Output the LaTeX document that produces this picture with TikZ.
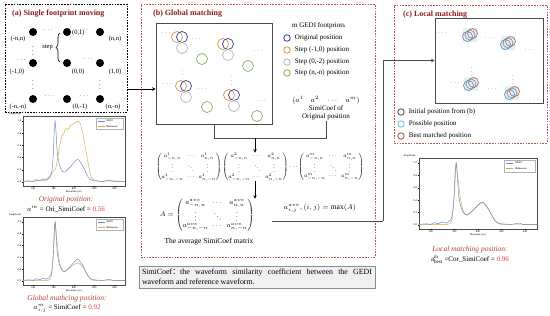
\documentclass[tikz,border=0pt]{standalone}
\usepackage{amsmath,amssymb}
\usepackage{graphicx}
\usepackage{fontspec}
\setmainfont{Liberation Serif}
\newfontfamily\cjk{Noto Sans CJK SC}
\usepackage{xcolor}
\definecolor{clTitle}{HTML}{8E1B1B}
\definecolor{clPanel}{HTML}{C0504D}
\definecolor{clLabel}{HTML}{B5453A}
\definecolor{clValue}{HTML}{E0403A}
\definecolor{clGrid}{HTML}{8C93D2}
\definecolor{clGedi}{HTML}{6B86C6}
\definecolor{clRef}{HTML}{D9A93F}
\definecolor{clOrig}{HTML}{343B8C}
\definecolor{clStepA}{HTML}{D9934A}
\definecolor{clStepB}{HTML}{B4B4B4}
\definecolor{clStepC}{HTML}{82B050}
\definecolor{clInit}{HTML}{454545}
\definecolor{clPoss}{HTML}{62C3E6}
\definecolor{clBest}{HTML}{A84A33}
\definecolor{clGlow}{HTML}{DDF3F9}
\definecolor{clLine}{HTML}{4A4A4A}
\usetikzlibrary{arrows.meta,positioning,calc,backgrounds,decorations.pathreplacing}
\tikzset{
  panel/.style={rectangle, draw=clPanel, dash pattern=on 1.6pt off 1.2pt, line width=0.7pt, inner sep=0pt},
  panelblk/.style={panel, draw=black},
  ptitle/.style={font=\fontsize{8}{9}\selectfont\bfseries, text=clTitle, anchor=west, inner sep=0pt},
  mapbox/.style={rectangle, draw=clLine, line width=0.9pt, fill=white, inner sep=0pt},
  fdot/.style={circle, fill=black, inner sep=0pt, minimum size=8pt},
  gridline/.style={draw=clGrid, line width=1.2pt},
  gridlab/.style={font=\fontsize{6.5}{7}\selectfont, inner sep=0pt},
  tinydots/.style={font=\fontsize{4.5}{5}\selectfont, inner sep=0pt},
  legtxt/.style={font=\fontsize{7}{8}\selectfont, anchor=west, inner sep=0pt},
  legcirc/.style={circle, draw=#1, line width=0.8pt, inner sep=0pt, minimum size=6.5pt},
  fp/.style={draw=#1, line width=0.7pt},
  flow/.style={-{Stealth[length=3.5pt,width=3.5pt]}, line width=0.6pt, draw=black},
  link/.style={line width=0.9pt, draw=clLine},
  poslab/.style={font=\fontsize{7.5}{8}\selectfont\itshape, text=clLabel, inner sep=0pt},
  eqlab/.style={font=\fontsize{7}{8}\selectfont, inner sep=0pt},
  matlab/.style={font=\fontsize{7}{8}\selectfont, inner sep=0pt},
  ticklab/.style={font=\fontsize{2.6}{3}\selectfont\sffamily, inner sep=0.6pt},
  wgedi/.style={draw=clGedi, line width=0.45pt},
  wref/.style={draw=clRef, line width=0.45pt},
  note/.style={rectangle, draw=black!45, fill=black!6, line width=0.6pt, text width=230pt,
               align=justify, inner sep=3pt, font=\fontsize{7.9}{10}\selectfont},
}
% frame, ticks and legend of one waveform plot (local units: metres above 750, amplitude)
\newcommand{\wfaxes}{%
  \draw[clLine, line width=0.35pt] (0,-0.066) rectangle (100,1.08);
  \foreach \v in {0.0,0.2,0.4,0.6,0.8,1.0}{
    \draw[line width=0.3pt] (0,\v) -- (-1,\v);
    \node[ticklab, anchor=east] at (-1,\v) {\v};}
  \foreach \e in {760,780,800,820,840}{
    \draw[line width=0.3pt] ({\e-750},-0.066) -- ({\e-750},-0.085);
    \node[ticklab, anchor=north] at ({\e-750},-0.08) {\e};}
  \node[ticklab, anchor=north] at (50,-0.125) {Elevation (m)};
  \node[ticklab, anchor=south] at (-8,1.09) {Amplitude};
  \draw[line width=0.25pt, draw=black!30] (72,0.86) rectangle (98,1.05);
  \draw[wgedi] (74,1.0) -- (80,1.0);
  \node[ticklab, anchor=west] at (81,1.0) {GEDI};
  \draw[wref] (74,0.91) -- (80,0.91);
  \node[ticklab, anchor=west] at (81,0.91) {Reference};
}
\newcommand{\gediwave}{(0,0.01) (6,0.02) (10,0.01) (13,0.04) (16,0.02) (20,0.05) (23,0.03)
  (26,0.07) (28,0.14) (29.5,0.4) (30.5,0.8) (31.5,1.0) (32.5,0.78) (33.5,0.5) (35,0.33)
  (37,0.22) (39,0.17) (41,0.16) (43,0.19) (46,0.24) (49,0.3) (52,0.36) (54,0.37) (56,0.33)
  (58,0.28) (60,0.22) (62,0.14) (64,0.08) (66,0.04) (70,0.02) (78,0.01) (85,0.03) (88,0.01) (100,0.01)}
\newcommand{\simimat}[1]{\begin{pmatrix} a^{#1}_{-n,n} & \cdots & a^{#1}_{n,n}\\ \vdots & \ddots & \vdots\\ a^{#1}_{-n,-n} & \cdots & a^{#1}_{n,-n}\end{pmatrix}}

\begin{document}
\begin{tikzpicture}[x=1pt, y=-1pt]
  \useasboundingbox (0,0) rectangle (550,316);
  \fill[white] (0,0) rectangle (550,316);

  % (a) single footprint moving
  \node[panelblk, minimum width=122pt, minimum height=108pt] (pa) at (66,58) {};
  \node[ptitle] (ta) at (12,14) {(a) Single footprint moving};
  \node[fdot] (tl) at (33,32) {};  \node[fdot] (tc) at (67,32) {};  \node[fdot] (tr) at (100,32) {};
  \node[fdot] (ml) at (33,63) {};  \node[fdot] (mc) at (67,63) {};  \node[fdot] (mr) at (100,63) {};
  \node[fdot] (bl) at (33,99) {};  \node[fdot] (bc) at (67,99) {};  \node[fdot] (br) at (100,99) {};
  \begin{scope}[on background layer]
    \draw[gridline] (tc) -- (bc);
    \draw[gridline] (ml) -- (mr);
  \end{scope}
  \node[gridlab] at (18,39) {(-n,n)};
  \node[gridlab, anchor=west] at (72,33) {(0,1)};
  \node[gridlab] at (115,39) {(n,n)};
  \node[gridlab] at (17,72) {(-1,0)};
  \node[gridlab] at (78,72) {(0,0)};
  \node[gridlab] at (115,72) {(1,0)};
  \node[gridlab] at (18,107) {(-n,-n)};
  \node[gridlab] at (80,107) {(0,-1)};
  \node[gridlab] at (113,107) {(n,-n)};
  \foreach \p in {(49,30),(85,30),(22,60),(89,59),(50,96),(85,96)}
    \node[gridlab] at \p {$\cdots$};
  \foreach \p in {(33,48),(33,82),(100,82)}
    \node[gridlab] at \p {$\vdots$};
  \draw[decorate, decoration={brace, amplitude=4pt}, line width=0.6pt] (60,62) -- (60,33);
  \node[gridlab, anchor=east] (stp) at (53,47) {step};

  % waveforms of panel (a)
  \begin{scope}[shift={(23,182)}, x=1.02pt, y=61pt]
    \wfaxes
    \draw[wref] plot[smooth, tension=0.4] coordinates {(0,0.01) (10,0.01) (15,0.03) (20,0.02)
      (24,0.06) (27,0.12) (30,0.18) (32,0.22) (34,0.4) (36,0.6) (38,0.74) (40,0.8) (42,0.88)
      (44,0.85) (46,0.92) (48,0.94) (50,0.96) (52,0.98) (54,1.0) (56,0.96) (58,0.85) (60,0.68)
      (62,0.48) (64,0.3) (66,0.12) (68,0.05) (70,0.03) (76,0.01) (85,0.02) (100,0.01)};
    \draw[wgedi] plot[smooth, tension=0.4] coordinates {\gediwave};
  \end{scope}
  \node[poslab] (lorig) at (66,199.5) {Original position:};
  \node[eqlab] (forig) at (66,209) {$a^{m}$ = Ori\_SimiCoef = {\color{clValue}0.56}};
  \begin{scope}[shift={(23,281)}, x=1.02pt, y=59pt]
    \wfaxes
    \draw[wref] plot[smooth, tension=0.4] coordinates {(0,0.01) (20,0.01) (26,0.02) (28,0.1)
      (30,0.5) (31.5,1.0) (33,0.72) (35,0.42) (37,0.24) (40,0.16) (43,0.19) (47,0.24)
      (51,0.29) (54,0.3) (57,0.27) (60,0.2) (63,0.11) (66,0.04) (70,0.01) (100,0.01)};
    \draw[wgedi] plot[smooth, tension=0.4] coordinates {\gediwave};
  \end{scope}
  \node[poslab] (lglob) at (67,298.5) {Global mathcing position:};
  \node[eqlab] (fglob) at (67,308) {$a^{m}_{i,j}$ = SimiCoef = {\color{clValue}0.92}};

  % (b) global matching
  \node[panel, minimum width=234pt, minimum height=253pt] (pb) at (258,130.5) {};
  \node[ptitle] (tb) at (153,14) {(b) Global matching};
  \node[mapbox, minimum width=116pt, minimum height=101pt] (mapB) at (214,73.5) {};
  \foreach \x/\y in {182/37, 228/44, 186/86, 234/95}{
    \draw[fp=clStepA] (\x-5,\y) circle (5.5);
    \draw[fp=clOrig] (\x,\y) circle (5.5);
    \draw[fp=clStepB] (\x,\y+11) circle (5.5);}
  \foreach \x/\y in {202/59, 248/66, 207/107, 257/116}
    \draw[fp=clStepC] (\x,\y) circle (5.5);
  \foreach \p in {(167,33),(197,39),(259,51),(168,84),(203,89),(262,101)}
    \node[tinydots] at \p {$\cdots$};
  \foreach \p in {(183,72),(232,78)}
    \node[tinydots] at \p {$\vdots$};
  \draw[flow] ([yshift=-31pt]pa.east) -- ([yshift=-31pt]pa.east -| mapB.west);

  \node[legtxt] (lgm) at (292,26) {m GEDI footprints};
  \node[legcirc=clOrig] (c1) at (287,38) {};
  \node[legtxt, right=4pt of c1] {Original position};
  \node[legcirc=clStepA] (c2) at (287,50) {};
  \node[legtxt, right=4pt of c2] {Step (-1,0) position};
  \node[legcirc=clStepB] (c3) at (287,62) {};
  \node[legtxt, right=4pt of c3] {Step (0,-2) position};
  \node[legcirc=clStepC] (c4) at (287,73) {};
  \node[legtxt, right=4pt of c4] {Step (n,-n) position};
  \node[eqlab, align=center] (vecpos) at (326,108.5)
    {$(a^1\quad a^2\quad \cdots\quad a^m)$\\SimiCoef of\\Original position};

  \coordinate (jn) at (255,138);
  \draw[link] (mapB.south) -- ++(0,14) -| (vecpos.south);
  \node[matlab] (mats) at (260,167) {\resizebox{208pt}{!}{\arraycolsep=2pt\renewcommand{\arraystretch}{0.78}%
    $\simimat{1}\simimat{2}\cdots\simimat{m}$}};
  \draw[flow] (jn) -- (jn |- mats.north);
  \node[matlab] (Amat) at (207,215) {\resizebox{94pt}{!}{\arraycolsep=2pt\renewcommand{\arraystretch}{0.85}%
    $A=\simimat{ave}$}};
  \draw[flow] (mats.south -| jn) -- (Amat.north -| jn);
  \node[eqlab, font=\fontsize{7.5}{8}\selectfont] (cap) at (209,242) {The average SimiCoef matrix};
  \node[eqlab, font=\fontsize{7.5}{8}\selectfont] (maxA) at (320,208) {$a^{ave}_{i,j}, (i,j) = \max(A)$};

  % (c) local matching
  \node[panel, minimum width=153pt, minimum height=138pt] (pc) at (470.5,74) {};
  \node[ptitle] (tc2) at (403,15) {(c) Local matching};
  \node[mapbox, minimum width=108pt, minimum height=85pt] (mapC) at (489,60.5) {};
  \foreach \x/\y in {470/35, 508/43, 471/84, 512/93}{
    \fill[clGlow] (\x-7,\y-7) rectangle (\x+7,\y+7);
    \draw[fp=clGedi] (\x-2.5,\y+1.5) circle (5);
    \draw[fp=black!45] (\x,\y) circle (5);
    \draw[fp=clBest!80] (\x+2.5,\y-1.5) circle (5);}
  \foreach \p in {(443,33),(490,38),(530,50),(456,83),(493,89),(535,100)}
    \node[tinydots] at \p {$\cdots$};
  \foreach \p in {(472,69),(513,77)}
    \node[tinydots] at \p {$\vdots$};
  \node[legcirc=clInit] (k1) at (401,112) {};
  \node[legtxt, right=4pt of k1] {Initial position from (b)};
  \node[legcirc=clPoss] (k2) at (401,124) {};
  \node[legtxt, right=4pt of k2] {Possible position};
  \node[legcirc=clBest] (k3) at (401,136) {};
  \node[legtxt, right=4pt of k3] {Best matched position};

  \coordinate (ul) at (272,221);
  \coordinate (bend) at (383,221);
  \draw[link] (ul) -- (bend);
  \draw[flow, line width=0.9pt, draw=clLine] (bend) |- (mapC.west);

  \begin{scope}[shift={(419,225)}, x=1.18pt, y=62pt]
    \wfaxes
    \draw[wref] plot[smooth, tension=0.4] coordinates {(0,0.01) (20,0.01) (26,0.02) (28,0.1)
      (30,0.5) (31.5,1.0) (33,0.75) (35,0.45) (37,0.25) (40,0.16) (43,0.2) (47,0.26)
      (51,0.33) (54,0.36) (57,0.31) (60,0.22) (63,0.12) (66,0.05) (70,0.01) (100,0.01)};
    \draw[wgedi] plot[smooth, tension=0.4] coordinates {\gediwave};
  \end{scope}
  \node[poslab] (lloc) at (470,250) {Local matching position:};
  \node[eqlab] (floc) at (470,259.5) {$\mathrm{a}^{\mathrm{m}}_{\mathrm{best}}$ =Cor\_SimiCoef = {\color{clValue}0.96}};

  \node[note] (nt) at (257,277) {SimiCoef{\cjk ：}the waveform similarity coefficient between the GEDI\linebreak waveform and reference waveform.};
\end{tikzpicture}
\end{document}
